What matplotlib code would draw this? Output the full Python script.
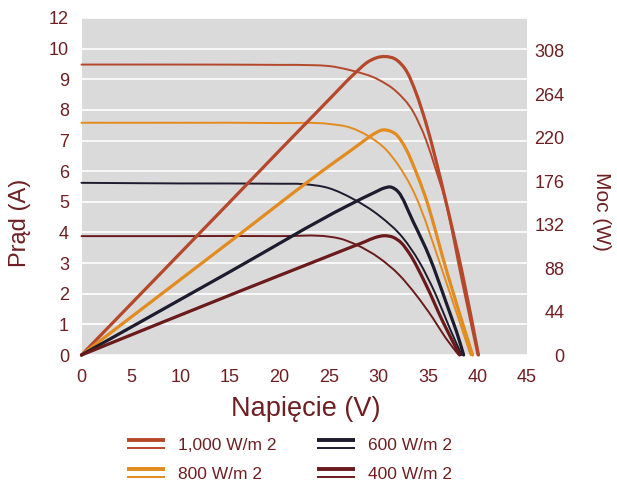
import numpy as np
import matplotlib
matplotlib.use("Agg")
import matplotlib.pyplot as plt
from matplotlib.path import Path
from matplotlib.patches import PathPatch
from matplotlib.legend_handler import HandlerBase
from matplotlib.lines import Line2D

plt.rcParams['font.family'] = ['Liberation Sans', 'DejaVu Sans']

# ---------------- data ----------------
series_labels = ['1,000 W/m 2', '800 W/m 2', '600 W/m 2', '400 W/m 2']
series_colors = ['#b5472b', '#e38b1f', '#1d1b2e', '#6b1a1c']

# current-voltage curves (A)
iv_1000_v = [0, 10, 20, 23.3, 25.05, 27.1, 30.1, 31.8, 33.5, 34.8, 35.8, 36.7, 38.3, 40.0]
iv_1000_i = [9.48, 9.48, 9.47, 9.46, 9.43, 9.3, 8.97, 8.6, 7.94, 7.02, 6.04, 5.1, 2.6, 0]
iv_800_v = [0, 10, 20, 25.05, 27.07, 29.1, 30.8, 32.1, 33.3, 33.7, 36.6, 39.3]
iv_800_i = [7.58, 7.58, 7.57, 7.54, 7.43, 7.12, 6.69, 6.15, 5.49, 5.22, 2.61, 0]
iv_600_v = [0, 10, 20, 22.3, 25.05, 27.4, 30.1, 32.5, 34.1, 35.8, 37.2, 38.4]
iv_600_i = [5.62, 5.6, 5.59, 5.58, 5.44, 5.1, 4.54, 3.81, 3.05, 1.96, 0.87, 0]
iv_400_v = [0, 10, 20, 25.05, 26.1, 27.75, 30.1, 32.1, 33.8, 35.5, 36.8, 38.1]
iv_400_i = [3.88, 3.88, 3.88, 3.86, 3.8, 3.6, 3.16, 2.61, 1.96, 1.2, 0.55, 0]

# power-voltage curves (W)
pv_1000_v = [0, 15.0, 25.05, 27.5, 29.0, 30.6, 31.9, 32.9, 33.8, 34.8, 35.8, 36.7, 38.5, 40.1]
pv_1000_p = [0, 155, 259, 284, 297, 302, 298, 286, 265, 234.5, 197, 160, 81, 0]
pv_800_v = [0, 15.0, 25.05, 27.07, 28.5, 29.5, 30.4, 31.2, 31.8, 32.8, 33.8, 34.7, 37.0, 39.5]
pv_800_p = [0, 114.7, 191.5, 206, 216.5, 223.5, 227.7, 226.5, 223, 208, 185, 161, 81, 0]
pv_600_v = [0, 15, 27.07, 29.6, 30.6, 31.2, 32.0, 33.5, 35.2, 36.8, 38.2, 38.6]
pv_600_p = [0, 84.3, 152, 164.5, 169, 170, 165, 135, 98, 54, 13.5, 0]
pv_400_v = [0, 16.1, 22.4, 25.05, 27.07, 28.6, 29.7, 30.6, 31.5, 32.3, 33.1, 34.8, 36.5, 38.2]
pv_400_p = [0, 65, 90, 100.5, 108.5, 114.5, 119, 120.7, 119, 113.5, 103, 71, 33.7, 0]

x_ticks = [0, 5, 10, 15, 20, 25, 30, 35, 40, 45]
left_tick_pos = [0, 1, 2, 3, 4, 5, 6, 7, 8, 9, 10, 11]
left_tick_labels = ['0', '1', '2', '3', '4', '5', '6', '7', '8', '9', '10', '12']
right_ticks = [0, 44, 88, 132, 176, 220, 264, 308]

iv_series = [(iv_1000_v, iv_1000_i), (iv_800_v, iv_800_i), (iv_600_v, iv_600_i), (iv_400_v, iv_400_i)]
pv_series = [(pv_1000_v, pv_1000_p), (pv_800_v, pv_800_p), (pv_600_v, pv_600_p), (pv_400_v, pv_400_p)]

text_color = '#6e1f22'


def smooth_path(x, y):
    """Cubic Hermite curve through the read points (parabolic slopes), as a Bezier path."""
    x = np.asarray(x, float)
    y = np.asarray(y, float)
    h = np.diff(x)
    d = np.diff(y) / h
    n = len(x)
    m = np.zeros(n)
    for i in range(1, n - 1):
        m[i] = (h[i] * d[i - 1] + h[i - 1] * d[i]) / (h[i - 1] + h[i])
        if d[i - 1] == 0 and d[i] == 0:
            m[i] = 0.0
    m[0] = d[0]
    m[-1] = d[-1]
    verts = [(x[0], y[0])]
    codes = [Path.MOVETO]
    for i in range(n - 1):
        hh = h[i]
        verts += [(x[i] + hh / 3, y[i] + m[i] * hh / 3),
                  (x[i + 1] - hh / 3, y[i + 1] - m[i + 1] * hh / 3),
                  (x[i + 1], y[i + 1])]
        codes += [Path.CURVE4] * 3
    return Path(verts, codes)


W, H = 617, 483
fig = plt.figure(figsize=(W / 100, H / 100), dpi=100)
L, R, B, T = 81.5, 527, 355, 18
ax = fig.add_axes([L / W, 1 - B / H, (R - L) / W, (B - T) / H])
ax.set_facecolor('#dadada')
for s in ax.spines.values():
    s.set_visible(False)

ax.set_xlim(0, 45)
ax.set_ylim(0, 11)
ax.set_xticks(x_ticks)
ax.set_yticks(left_tick_pos)
ax.set_yticklabels(left_tick_labels)
ax.tick_params(axis='both', length=0, labelsize=13, colors=text_color)
ax.tick_params(axis='x', pad=10)
ax.tick_params(axis='y', pad=9)
ax.grid(axis='y', color='white', lw=1.2)
ax.set_axisbelow(True)

ax2 = ax.twinx()
ax2.set_ylim(0, 341)
ax2.set_yticks(right_ticks)
for s in ax2.spines.values():
    s.set_visible(False)
ax2.tick_params(axis='y', length=0, labelsize=13, colors=text_color, pad=27)
for lab in ax2.get_yticklabels():
    lab.set_horizontalalignment('right')

for (v, i), c in zip(iv_series, series_colors):
    ax.add_patch(PathPatch(smooth_path(v, i), facecolor='none', edgecolor=c, lw=1.4,
                           clip_on=False, capstyle='round', joinstyle='round'))
for (v, p), c in zip(pv_series, series_colors):
    ax2.add_patch(PathPatch(smooth_path(v, p), facecolor='none', edgecolor=c, lw=2.3,
                            clip_on=False, capstyle='round', joinstyle='round'))

fig.text(306 / W, 1 - 409 / H, 'Napięcie (V)', ha='center', va='center', fontsize=19.5, color=text_color)
fig.text(20 / W, 1 - 223 / H, 'Prąd (A)', ha='center', va='center', rotation=90, fontsize=17, color=text_color)
fig.text(602 / W, 1 - 211 / H, 'Moc (W)', ha='center', va='center', rotation=270, fontsize=15, color=text_color)


class DoubleLineHandler(HandlerBase):
    def create_artists(self, legend, orig_handle, xdescent, ydescent, width, height, fontsize, trans):
        c = orig_handle.get_color()
        yc = height / 2 - ydescent
        top = Line2D([-xdescent, width - xdescent], [yc + 3.0, yc + 3.0], color=c, lw=2.8,
                     solid_capstyle='butt', transform=trans)
        bot = Line2D([-xdescent, width - xdescent], [yc - 3.0, yc - 3.0], color=c, lw=1.4,
                     solid_capstyle='butt', transform=trans)
        return [top, bot]


proxies = [Line2D([], [], color=c) for c in series_colors]
leg = fig.legend(proxies, series_labels, handler_map={Line2D: DoubleLineHandler()},
                 loc='upper left', bbox_to_anchor=(127 / W, 1 - 438 / H), ncol=2,
                 frameon=False, fontsize=12.5, borderpad=0, borderaxespad=0,
                 handlelength=2.2, handletextpad=0.75, columnspacing=2.3, labelspacing=0.78)
for t in leg.get_texts():
    t.set_color(text_color)

fig.savefig('out.png', dpi=100)
